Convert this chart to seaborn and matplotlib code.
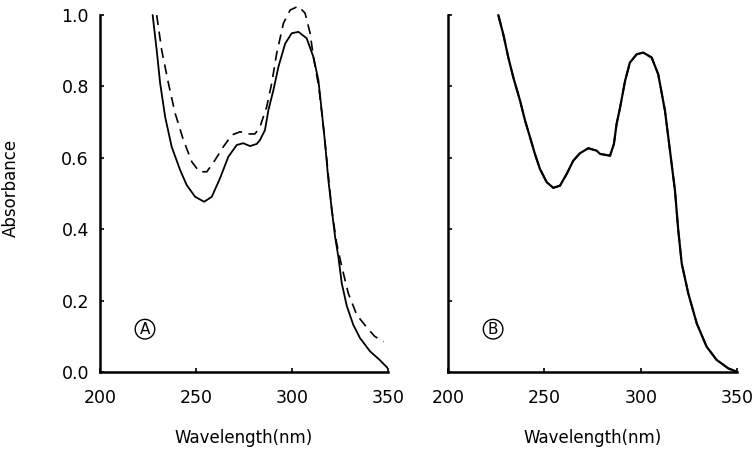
import matplotlib
matplotlib.use('Agg')
import matplotlib.pyplot as plt
import seaborn as sns

# Panel A, solid curve (wavelength nm, absorbance)
a_solid_x = [227.4, 229.5, 231.3, 233.9, 237.3, 241.7, 245.1, 249.5, 254.2, 258.2, 262.5, 266.8,
             271.2, 274.6, 278.1, 281.6, 283.3, 285.9, 287.7, 290.3, 292.9, 296.4, 299.8, 303.3,
             307.6, 311.1, 313.7, 315.4, 317.2, 318.9, 320.7, 322.4, 324.1, 325.9, 328.5, 331.9,
             335.4, 340.6, 345.8, 350.0]
a_solid_y = [1.00, 0.902, 0.809, 0.715, 0.631, 0.566, 0.524, 0.491, 0.477, 0.491, 0.543, 0.603,
             0.636, 0.641, 0.633, 0.639, 0.65, 0.678, 0.734, 0.79, 0.855, 0.92, 0.949, 0.953,
             0.935, 0.883, 0.818, 0.734, 0.641, 0.538, 0.454, 0.379, 0.323, 0.248, 0.185, 0.132,
             0.095, 0.058, 0.033, 0.010]

# Panel A, dashed curve
a_dash_x = [229.5, 232.1, 235.6, 239.1, 243.4, 247.8, 251.7, 255.6, 259.9, 264.2, 268.6, 272.9,
            277.2, 280.7, 283.3, 286.8, 289.4, 292.0, 295.5, 299.0, 303.3, 306.8, 309.4, 311.1,
            313.9, 316.3, 318.1, 320.7, 323.2, 325.9, 329.3, 333.7, 338.9, 343.0, 347.6]
a_dash_y = [1.00, 0.902, 0.809, 0.725, 0.65, 0.589, 0.561, 0.561, 0.594, 0.631, 0.664, 0.673,
            0.667, 0.667, 0.687, 0.743, 0.809, 0.893, 0.977, 1.014, 1.025, 1.005, 0.949, 0.883,
            0.80, 0.687, 0.594, 0.454, 0.361, 0.295, 0.22, 0.16, 0.125, 0.10, 0.085]

# Panel B, solid and dashed curves lie on top of each other
b_x = [226.1, 228.7, 231.3, 233.9, 237.4, 240.0, 242.6, 245.1, 247.7, 251.2, 254.6, 258.1, 261.6,
       265.0, 268.5, 272.8, 277.2, 278.9, 284.1, 286.1, 287.5, 289.3, 291.9, 294.4, 297.9, 301.3,
       305.7, 309.1, 312.6, 315.2, 317.8, 319.5, 321.3, 324.7, 329.1, 334.2, 339.4, 345.5, 349.8]
b_y = [1.00, 0.946, 0.881, 0.825, 0.76, 0.704, 0.657, 0.611, 0.569, 0.532, 0.516, 0.522, 0.555,
       0.592, 0.613, 0.627, 0.62, 0.611, 0.606, 0.639, 0.695, 0.741, 0.816, 0.867, 0.89, 0.895,
       0.881, 0.834, 0.732, 0.62, 0.508, 0.397, 0.304, 0.22, 0.136, 0.071, 0.034, 0.01, 0.001]

x_ticks = [200, 250, 300, 350]
y_ticks = [0.0, 0.2, 0.4, 0.6, 0.8, 1.0]

sns.set_style('ticks')
plt.rcParams['font.family'] = ['DejaVu Sans']
plt.rcParams['text.color'] = 'black'
plt.rcParams['axes.labelcolor'] = 'black'
plt.rcParams['xtick.color'] = 'black'
plt.rcParams['ytick.color'] = 'black'
plt.rcParams['axes.edgecolor'] = 'black'

fig = plt.figure(figsize=(7.55, 4.55), dpi=100)
axA = fig.add_axes([0.1325, 0.1824, 0.3815, 0.808])
axB = fig.add_axes([0.5934, 0.1824, 0.3828, 0.808])

sns.lineplot(x=a_solid_x, y=a_solid_y, ax=axA, color='black', lw=1.3, sort=False)
sns.lineplot(x=a_dash_x, y=a_dash_y, ax=axA, color='black', lw=1.2, sort=False, linestyle=(0, (6, 4)))
sns.lineplot(x=b_x, y=b_y, ax=axB, color='black', lw=1.6, sort=False)
sns.lineplot(x=b_x, y=b_y, ax=axB, color='black', lw=1.3, sort=False, linestyle=(0, (6, 4)))

for ax, tag in [(axA, 'A'), (axB, 'B')]:
    ax.set_xlim(200, 350)
    ax.set_ylim(0, 1.03)
    sns.despine(ax=ax)
    ax.spines['left'].set_bounds(0, 1)
    for s in ['left', 'bottom']:
        ax.spines[s].set_linewidth(1.8)
    ax.set_xticks(x_ticks)
    ax.set_yticks(y_ticks)
    ax.tick_params(axis='both', direction='in', length=3, width=1.2, labelsize=12.5)
    ax.tick_params(axis='x', pad=12)
    ax.tick_params(axis='y', pad=8)
    ax.set_xlabel('Wavelength(nm)', fontsize=12, labelpad=16)
    ax.text(223.4, 0.12, tag, fontsize=11, ha='center', va='center',
            bbox=dict(boxstyle='circle,pad=0.15', fc='white', ec='black', lw=1.0))

axA.set_yticklabels([f'{v:.1f}' for v in y_ticks])
axA.set_ylabel('Absorbance', fontsize=12, labelpad=30)
axB.set_yticklabels([])
axB.set_ylabel('')

fig.savefig('out.png', dpi=100)
